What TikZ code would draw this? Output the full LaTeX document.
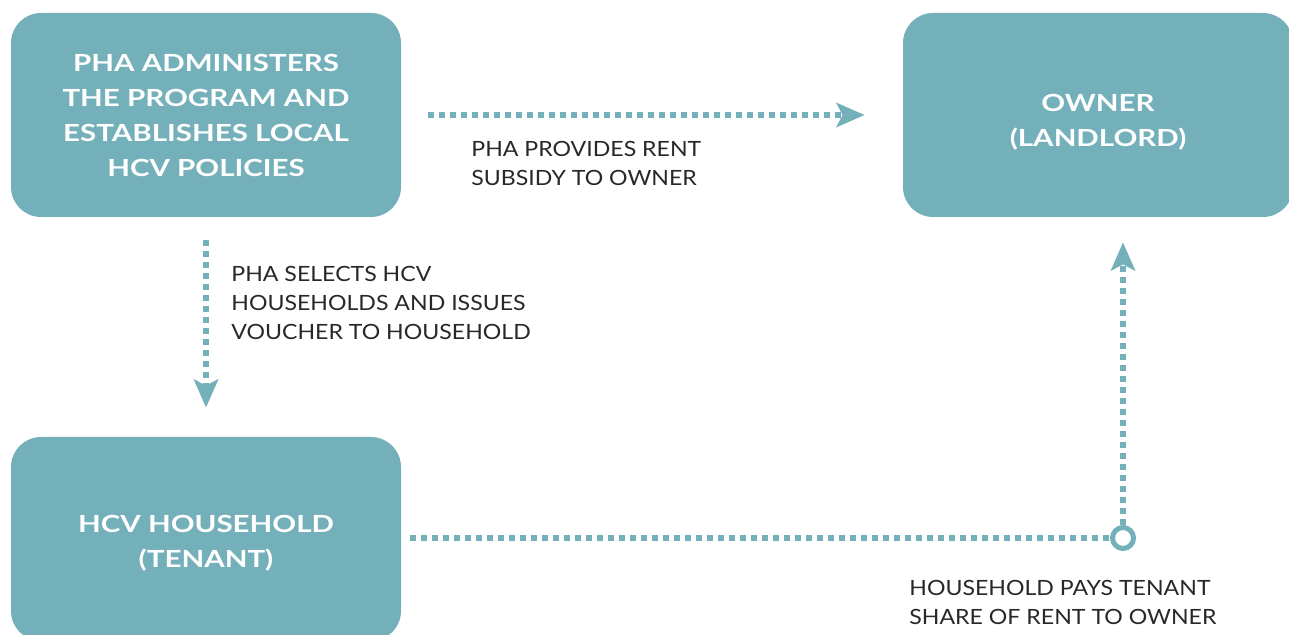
\documentclass[tikz,border=0pt]{standalone}
\usepackage{fontspec}
\setmainfont{Lato}
\newfontfamily\notefont{Lato}[FakeStretch=1.1]
\newfontfamily\boxfont{Lato}[FakeStretch=1.25]
\usetikzlibrary{arrows.meta}
\definecolor{hcvteal}{RGB}{116,176,186}
\definecolor{hcvtext}{RGB}{40,40,40}
\begin{document}
\begin{tikzpicture}[x=0.5pt,y=-0.5pt,
	box/.style={fill=hcvteal, rounded corners=15pt, minimum width=195pt, minimum height=102pt,
		inner sep=0pt, align=center, text=white, font=\boxfont\bfseries\fontsize{11.8}{17.5}\selectfont},
	note/.style={anchor=north west, inner sep=0pt, align=left, text=hcvtext,
		font=\notefont\fontsize{10.5}{14.5}\selectfont},
	flow/.style={hcvteal, line width=3pt, dash pattern=on 3pt off 2.5pt,
		-{Stealth[length=14pt,width=12pt,inset=3pt]}},
	knot/.style={circle, draw=hcvteal, fill=white, line width=2.5pt, minimum size=10.5pt, inner sep=0pt}]
	\clip (0,0) rectangle (1289,635);
	\fill[white] (0,0) rectangle (1289,635);

	\node[box] (pha) at (206,115) {PHA ADMINISTERS\\THE PROGRAM AND\\ESTABLISHES LOCAL\\HCV POLICIES};
	\node[box, text height=33pt] (owner) at (1098,115) {OWNER\\(LANDLORD)};
	\node[box, text height=30pt] (tenant) at (206,539) {HCV HOUSEHOLD\\(TENANT)};
	\node[knot] (pay) at (1123,538) {};

	\draw[flow, shorten <=13.5pt, shorten >=19pt] (pha) -- (owner);
	\draw[flow, shorten <=11.5pt, shorten >=14.5pt] (pha) -- (tenant);
	\draw[flow, -, shorten <=4.5pt] (tenant.east |- pay) -- (pay.west);
	\draw[flow, shorten >=12.5pt] (pay.north) -- (pay |- owner.south);

	\node[note] (rent) at (471,141) {PHA PROVIDES RENT\\SUBSIDY TO OWNER};
	\node[note] (voucher) at (231,266) {PHA SELECTS HCV\\HOUSEHOLDS AND ISSUES\\VOUCHER TO HOUSEHOLD};
	\node[note] (share) at (909,580) {HOUSEHOLD PAYS TENANT\\SHARE OF RENT TO OWNER};
\end{tikzpicture}
\end{document}
